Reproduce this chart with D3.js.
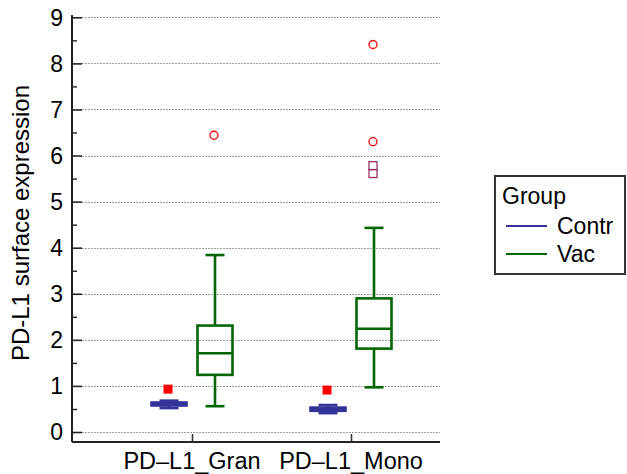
<!DOCTYPE html>
<meta charset="utf-8">
<style>
body { margin: 0; background: #fff; }
text { font-family: "Liberation Sans", Arial, sans-serif; fill: #000; }
.grid line { stroke: #a0a0a0; stroke-width: 1px; stroke-dasharray: 2,1; shape-rendering: crispEdges; }
</style>
<svg width="627" height="474"></svg>
<script src="https://d3js.org/d3.v7.min.js"></script>
<script>
// data
var categories = ["PD\u2013L1_Gran", "PD\u2013L1_Mono"];
var groups = ["Contr", "Vac"];
var groupColors = ["#333399", "#006600"];
// [whiskerLow, q1, median, q3, whiskerHigh] per category
var contrStats = [[0.52, 0.575, 0.61, 0.64, 0.68], [0.41, 0.46, 0.50, 0.53, 0.585]];
var vacStats = [[0.56, 1.24, 1.71, 2.31, 3.84], [0.97, 1.81, 2.24, 2.90, 4.43]];
// outliers: [categoryIndex, value, kind]
var contrOutliers = [[0, 0.93, "far"], [1, 0.91, "far"]];
var vacOutliers = [[0, 6.44, "out"], [1, 6.30, "out"], [1, 8.41, "out"], [1, 5.78, "sq"], [1, 5.61, "sq"]];
var yTicks = [0, 1, 2, 3, 4, 5, 6, 7, 8, 9];

var svg = d3.select("svg");
var plotLeft = 72, plotRight = 440, plotTop = 17.3, plotBottom = 432, axisY = 442;

var y = d3.scaleLinear().domain([0, 9]).range([plotBottom, plotTop]);
var x = d3.scalePoint().domain(categories).range([192, 351]);
var offset = [-23, 23];

// grid
svg.append("g").attr("class", "grid")
  .selectAll("line").data(yTicks).enter().append("line")
  .attr("x1", plotLeft + 10).attr("x2", plotRight)
  .attr("y1", function(d) { return Math.round(y(d)) + 0.5; })
  .attr("y2", function(d) { return Math.round(y(d)) + 0.5; });

// y axis
var yAxis = svg.append("g").attr("transform", "translate(" + plotLeft + ",0)")
  .call(d3.axisRight(y).tickValues(yTicks).tickSize(10).tickFormat(""));
yAxis.select(".domain").remove();
yAxis.selectAll(".tick line").attr("stroke", "#222").attr("stroke-width", 1.6);
svg.append("g").attr("transform", "translate(" + plotLeft + ",0)")
  .call(d3.axisRight(y).tickValues(d3.range(0.5, 9, 1)).tickSize(5).tickFormat(""))
  .call(function(g) { g.select(".domain").remove(); g.selectAll("line").attr("stroke", "#222").attr("stroke-width", 1.4); });
svg.append("g").selectAll("text").data(yTicks).enter().append("text")
  .attr("x", 63).attr("y", function(d) { return y(d); }).attr("dy", "0.36em")
  .attr("text-anchor", "end").style("font-size", "23px").text(function(d) { return d; });
svg.append("line").attr("x1", plotLeft).attr("x2", plotLeft).attr("y1", 15).attr("y2", axisY)
  .attr("stroke", "#222").attr("stroke-width", 2);

// x axis
svg.append("line").attr("x1", plotLeft).attr("x2", plotRight).attr("y1", axisY).attr("y2", axisY)
  .attr("stroke", "#222").attr("stroke-width", 2);
var xAxis = svg.append("g").attr("transform", "translate(0," + axisY + ")")
  .call(d3.axisTop(x).tickSize(8).tickFormat(""));
xAxis.select(".domain").remove();
xAxis.selectAll("line").attr("stroke", "#333").attr("stroke-width", 1.6);
svg.append("g").selectAll("text").data(categories).enter().append("text")
  .attr("x", function(d) { return x(d); }).attr("y", 469)
  .attr("text-anchor", "middle").style("font-size", "23.5px").text(function(d) { return d; });

// y label
svg.append("text").attr("transform", "translate(29,223) rotate(-90)")
  .attr("text-anchor", "middle").style("font-size", "24px").text("PD-L1 surface expression");

// boxes
function drawBoxes(stats, gi) {
  var col = groupColors[gi], boxW = 35, capW = 19;
  var g = svg.append("g").attr("stroke", col).attr("stroke-width", 2.6).attr("fill", "none");
  stats.forEach(function(s, ci) {
    var cx = x(categories[ci]) + offset[gi];
    g.append("line").attr("x1", cx).attr("x2", cx).attr("y1", y(s[0])).attr("y2", y(s[1]));
    g.append("line").attr("x1", cx).attr("x2", cx).attr("y1", y(s[3])).attr("y2", y(s[4]));
    g.append("line").attr("x1", cx - capW / 2).attr("x2", cx + capW / 2).attr("y1", y(s[0])).attr("y2", y(s[0]));
    g.append("line").attr("x1", cx - capW / 2).attr("x2", cx + capW / 2).attr("y1", y(s[4])).attr("y2", y(s[4]));
    g.append("rect").attr("x", cx - boxW / 2).attr("width", boxW)
      .attr("y", y(s[3])).attr("height", y(s[1]) - y(s[3]));
    g.append("line").attr("x1", cx - boxW / 2).attr("x2", cx + boxW / 2).attr("y1", y(s[2])).attr("y2", y(s[2]));
  });
}
drawBoxes(contrStats, 0);
drawBoxes(vacStats, 1);

// outliers
function drawOutliers(list, gi) {
  list.forEach(function(o) {
    var cx = x(categories[o[0]]) + offset[gi] - 1, cy = y(o[1]);
    if (o[2] === "far") {
      svg.append("rect").attr("x", cx - 4.5).attr("y", cy - 4.5).attr("width", 9).attr("height", 9).attr("fill", "#ff0000");
    } else if (o[2] === "out") {
      svg.append("circle").attr("cx", cx).attr("cy", cy).attr("r", 4).attr("fill", "none").attr("stroke", "#ff0000").attr("stroke-width", 1.3);
    } else {
      svg.append("rect").attr("x", cx - 4).attr("y", cy - 4).attr("width", 8).attr("height", 8).attr("fill", "none").attr("stroke", "#993366").attr("stroke-width", 1.3);
    }
  });
}
drawOutliers(contrOutliers, 0);
drawOutliers(vacOutliers, 1);

// legend
var lg = svg.append("g");
lg.append("rect").attr("x", 495).attr("y", 176).attr("width", 130).attr("height", 98)
  .attr("fill", "#fff").attr("stroke", "#333").attr("stroke-width", 2);
lg.append("text").attr("x", 502).attr("y", 204).style("font-size", "23px").text("Group");
groups.forEach(function(gname, i) {
  var ly = 226 + i * 28;
  lg.append("line").attr("x1", 506).attr("x2", 547).attr("y1", ly).attr("y2", ly)
    .attr("stroke", groupColors[i]).attr("stroke-width", 2);
  lg.append("text").attr("x", 557).attr("y", ly).attr("dy", "0.36em").style("font-size", "23px").text(gname);
});
</script>
